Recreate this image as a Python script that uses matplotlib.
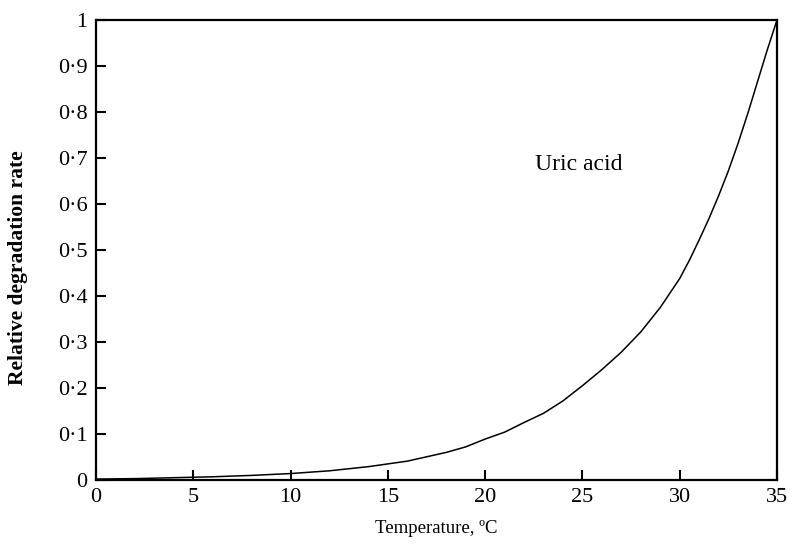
import matplotlib
matplotlib.use("Agg")
import matplotlib.pyplot as plt

temperature = [0, 2, 4, 6, 8, 10, 12, 14, 16, 18, 19, 20, 21, 22, 23, 24, 25, 26, 27, 28, 29, 30,
               30.5, 31, 31.5, 32, 32.5, 33, 33.5, 34, 34.5, 35]
rate = [0.002, 0.003, 0.005, 0.007, 0.010, 0.014, 0.020, 0.029, 0.041, 0.060, 0.072, 0.089, 0.104,
        0.125, 0.145, 0.172, 0.205, 0.240, 0.278, 0.322, 0.375, 0.438,
        0.478, 0.522, 0.568, 0.618, 0.672, 0.732, 0.797, 0.866, 0.935, 1.0]

x_ticks = [0, 5, 10, 15, 20, 25, 30, 35]
y_ticks = [0, 0.1, 0.2, 0.3, 0.4, 0.5, 0.6, 0.7, 0.8, 0.9, 1.0]
y_tick_labels = ["0", "0·1", "0·2", "0·3", "0·4", "0·5", "0·6", "0·7", "0·8", "0·9", "1"]
curve_label = "Uric acid"
x_label = "Temperature, ºC"
y_label = "Relative degradation rate"

plt.rcParams['font.family'] = ['Liberation Serif', 'DejaVu Serif']

fig = plt.figure(figsize=(7.93, 5.5), dpi=100)
ax = fig.add_axes([96/793, 1 - 480/550, (777-96)/793, (480-20)/550])

ax.plot(temperature, rate, color='black', lw=1.1)
ax.set_xlim(0, 35)
ax.set_ylim(0, 1)
ax.set_xticks(x_ticks)
ax.set_xticklabels([str(t) for t in x_ticks], fontsize=16)
ax.set_yticks(y_ticks)
ax.set_yticklabels(y_tick_labels, fontsize=16)
ax.tick_params(direction='in', length=7, width=1.5, pad=6)
for s in ax.spines.values():
    s.set_linewidth(1.6)

ax.text(24.8, 0.685, curve_label, fontsize=17, ha='center', va='center')
ax.set_xlabel(x_label, fontsize=13.5, labelpad=9)
fig.text(18/793, 1 - 268/550, y_label, fontsize=15.5, fontweight='bold',
         rotation=90, ha='center', va='center')

fig.savefig("out.png", dpi=100)
